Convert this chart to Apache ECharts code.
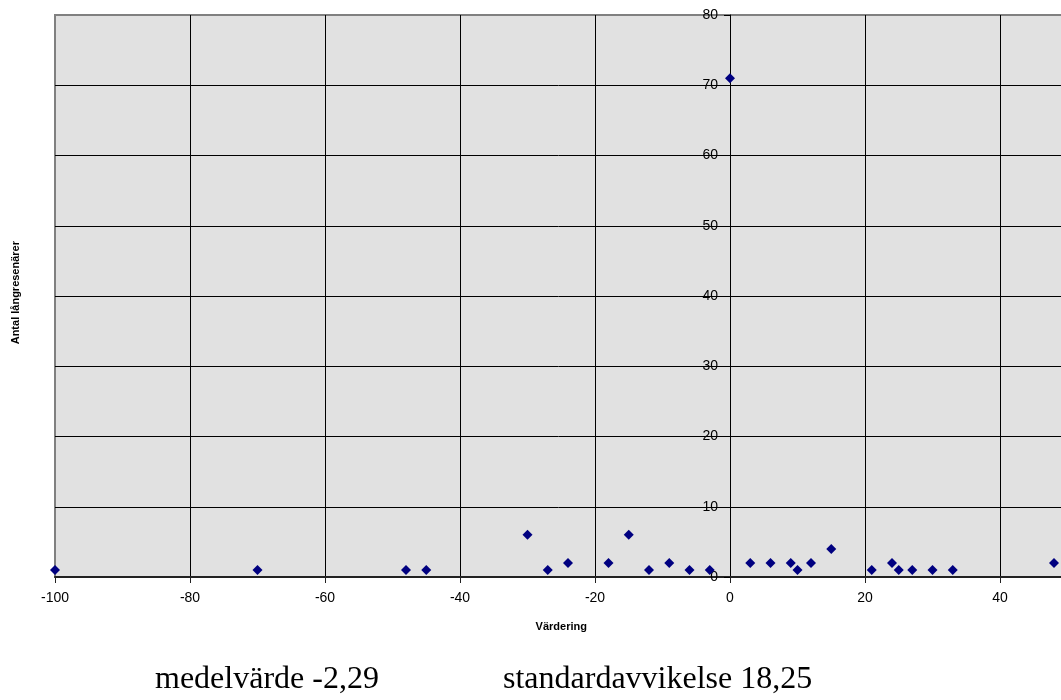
<!DOCTYPE html>
<html>
<head>
<meta charset="utf-8">
<script src="https://cdn.jsdelivr.net/npm/echarts@6/dist/echarts.min.js"></script>
<style>
html,body{margin:0;padding:0;background:#fff;}
#chart{width:1061px;height:700px;}
</style>
</head>
<body>
<div id="chart"></div>
<script>
// Data (Värdering, Antal långresenärer)
var vardering = [-100, -70, -48, -45, -30, -27, -24, -18, -15, -12, -9, -6, -3, 0, 3, 6, 9, 10, 12, 15, 21, 24, 25, 27, 30, 33, 48];
var antal     = [1, 1, 1, 1, 6, 1, 2, 2, 6, 1, 2, 1, 1, 71, 2, 2, 2, 1, 2, 4, 1, 2, 1, 1, 1, 1, 2];
var xTitle = 'Värdering';
var yTitle = 'Antal långresenärer';
var meanText = 'medelvärde -2,29';
var stdText = 'standardavvikelse 18,25';

var points = vardering.map(function (v, i) { return [v, antal[i]]; });

var X_MIN = -100, X_MAX = 50;
var GRID_LEFT = 55, GRID_WIDTH = 1012.5;
// place the value axis where x = 0 (Excel-style crossing)
var yAxisOffset = -(0 - X_MIN) * GRID_WIDTH / (X_MAX - X_MIN);

var chart = echarts.init(document.getElementById('chart'), null, {renderer: 'canvas'});
var xLineColors = ['rgba(0,0,0,0)', '#000', '#000', '#000', '#000', '#000', '#000', '#000', 'rgba(0,0,0,0)'];
var yLineColors = ['#000', '#000', '#000', '#000', '#000', '#000', '#000', '#000', 'rgba(0,0,0,0)'];
chart.setOption({
  animation: false,
  backgroundColor: '#ffffff',
  grid: {
    left: GRID_LEFT, top: 15, width: GRID_WIDTH, height: 562,
    containLabel: false, outerBoundsMode: 'none',
    show: true, backgroundColor: '#e1e1e1', borderColor: '#808080', borderWidth: 2
  },
  xAxis: {
    type: 'value', min: X_MIN, max: X_MAX, interval: 20,
    axisLine: {show: true, onZero: false, lineStyle: {color: '#222', width: 2}},
    axisTick: {show: true, inside: false, length: 6, lineStyle: {color: '#222', width: 1}},
    axisLabel: {color: '#000', fontFamily: 'Liberation Sans, Arial, sans-serif', fontSize: 14, margin: 14, showMaxLabel: false},
    splitLine: {show: true, lineStyle: {color: xLineColors, width: 1}},
    name: xTitle, nameLocation: 'middle', nameGap: 44,
    nameTextStyle: {color: '#000', fontFamily: 'Liberation Sans, Arial, sans-serif', fontSize: 11, fontWeight: 'bold'}
  },
  yAxis: {
    type: 'value', min: 0, max: 80, interval: 10,
    position: 'left', offset: yAxisOffset,
    axisLine: {show: true, onZero: false, lineStyle: {color: '#000', width: 1}},
    axisTick: {show: true, inside: false, length: 6, lineStyle: {color: '#000', width: 1}},
    axisLabel: {color: '#000', fontFamily: 'Liberation Sans, Arial, sans-serif', fontSize: 14, margin: 12},
    splitLine: {show: true, lineStyle: {color: yLineColors, width: 1}}
  },
  graphic: [
    {type: 'text', left: 10, top: 241, rotation: Math.PI / 2,
      style: {text: yTitle, fill: '#000', font: 'bold 11px "Liberation Sans", Arial, sans-serif'}},
    {type: 'text', x: 155, y: 680,
      style: {text: meanText, fill: '#000', font: '32px "Liberation Serif", "Times New Roman", serif', textVerticalAlign: 'middle'}},
    {type: 'text', x: 503, y: 680,
      style: {text: stdText, fill: '#000', font: '32px "Liberation Serif", "Times New Roman", serif', textVerticalAlign: 'middle'}}
  ],
  series: [{
    type: 'scatter',
    data: points,
    symbol: 'diamond',
    symbolSize: 10,
    itemStyle: {color: '#000080', opacity: 1},
    z: 5
  }]
});
</script>
</body>
</html>
